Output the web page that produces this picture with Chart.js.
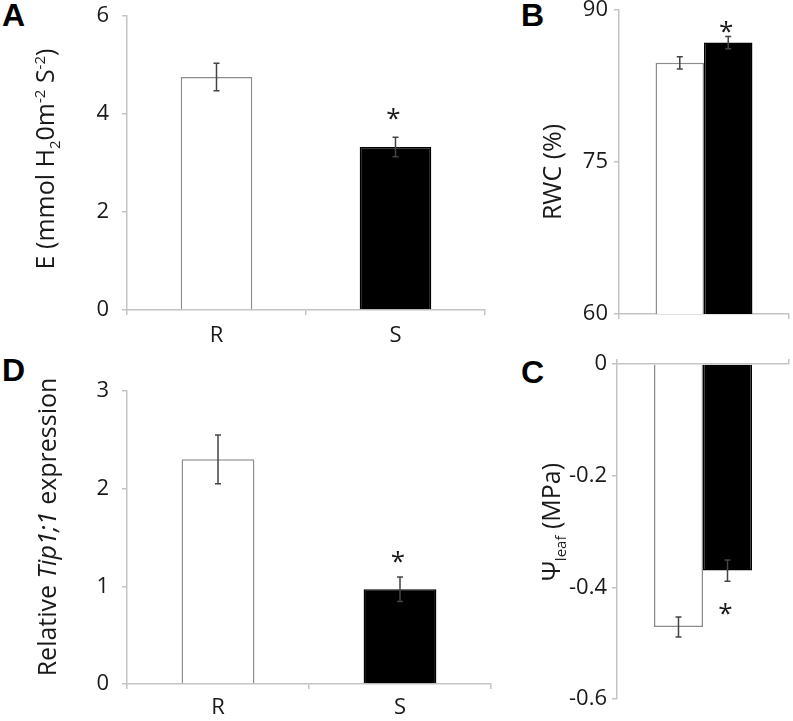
<!DOCTYPE html>
<html>
<head>
<meta charset="utf-8">
<script src="https://cdn.jsdelivr.net/npm/chart.js@4.4.1/dist/chart.umd.min.js"></script>
<style>
  body { margin: 0; background: #fff; }
  #wrap { position: relative; width: 793px; height: 721px; overflow: hidden; font-family: "Open Sans", sans-serif; color: #1a1a1a; }
  canvas { position: absolute; }
  .letter { position: absolute; font: bold 32px Arial, "Liberation Sans", sans-serif; line-height: 1; color: #000; }
  .ytitle { position: absolute; white-space: nowrap; font-size: 25px; line-height: 1; transform: translate(-50%, -50%) rotate(-90deg); }
  .ytitle sub, .ytitle sup { font-size: 15px; }
</style>
</head>
<body>
<div id="wrap">
  <canvas id="chartA" width="440" height="355" style="left:60px;top:-10px"></canvas>
  <canvas id="chartB" width="233" height="354" style="left:560px;top:-9px"></canvas>
  <canvas id="chartD" width="445" height="361" style="left:60px;top:360px"></canvas>
  <canvas id="chartC" width="233" height="376" style="left:560px;top:345px"></canvas>

  <div class="letter" style="left:2px;top:-1px">A</div>
  <div class="letter" style="left:521px;top:-1px">B</div>
  <div class="letter" style="left:2px;top:354px">D</div>
  <div class="letter" style="left:521px;top:356px">C</div>

  <div class="ytitle" style="left:47px;top:159px">E (mmol H<sub>2</sub>0m<sup>-2</sup> S<sup>-2</sup>)</div>
  <div class="ytitle" style="left:551px;top:172px">RWC (%)</div>
  <div class="ytitle" style="left:46px;top:527px">Relative <i>Tip1;1</i> expression</div>
  <div class="ytitle" style="left:553px;top:522px">&Psi;<sub>leaf</sub> (MPa)</div>
</div>
<script>
// ---- data ----
const groups = ["R", "S"];

// A: transpiration
const transpiration = [4.76, 3.33];
const transpirationErr = [0.28, 0.2];
const transpirationStar = [null, 4.04];
const ticksA = [0, 2, 4, 6];

// B: relative water content
const rwc = [84.8, 86.8];
const rwcErr = [0.6, 0.6];
const rwcStar = [null, 88.5];
const ticksB = [60, 75, 90];

// C: leaf water potential
const psiLeaf = [-0.471, -0.37];
const psiLeafErr = [0.018, 0.019];
const psiLeafStar = [null, -0.436];
const ticksC = [-0.6, -0.4, -0.2, 0];

// D: Tip1;1 expression
const tipExpr = [2.3, 0.97];
const tipExprErr = [0.25, 0.125];
const tipExprStar = [null, 1.32];
const ticksD = [0, 1, 2, 3];

const barFill = ["#ffffff", "#000000"];
const barEdge = ["#8c8c8c", "#000000"];
const axisGrey = "#c4c4c4";
const textCol = "#1a1a1a";
const font = { family: "Open Sans", size: 22 };

/* error bars + significance stars, drawn from the bar elements */
const errorBars = {
  id: "errorBars",
  afterDatasetsDraw(chart) {
    const ctx = chart.ctx;
    const y = chart.scales.y;
    chart.data.datasets.forEach((ds, di) => {
      const meta = chart.getDatasetMeta(di);
      meta.data.forEach((bar, i) => {
        const v = ds.data[i], e = ds.errors[i];
        const top = y.getPixelForValue(v + e);
        const bot = y.getPixelForValue(v - e);
        ctx.save();
        ctx.strokeStyle = "#444";
        ctx.lineWidth = 1.5;
        ctx.beginPath();
        ctx.moveTo(bar.x, top); ctx.lineTo(bar.x, bot);
        ctx.moveTo(bar.x - 3, top); ctx.lineTo(bar.x + 3, top);
        ctx.moveTo(bar.x - 3, bot); ctx.lineTo(bar.x + 3, bot);
        ctx.stroke();
        if (ds.stars[i] != null) {
          // glyph centre sits ~0.56em above the baseline
          ctx.fillStyle = textCol;
          ctx.font = "26px 'Open Sans'";
          ctx.textAlign = "center";
          ctx.textBaseline = "alphabetic";
          ctx.fillText("*", bar.x - 2, y.getPixelForValue(ds.stars[i]) + 14.5);
        }
        ctx.restore();
      });
    });
  }
};

function yScale(ticks, width, pad) {
  return {
    min: ticks[0],
    max: ticks[ticks.length - 1],
    afterBuildTicks: (s) => { s.ticks = ticks.map((v) => ({ value: v })); },
    ticks: { padding: pad, color: textCol, font, callback: (v) => String(v) },
    grid: { drawOnChartArea: false, tickLength: 5, color: axisGrey, lineWidth: 1.5 },
    border: { color: axisGrey, width: 1.5 },
    afterFit: (s) => { s.width = width; }
  };
}

function xScale(height, showLabels, pad, position) {
  return {
    position: position || "bottom",
    ticks: { display: showLabels, padding: pad, color: textCol, font },
    grid: { drawOnChartArea: false, tickLength: 5, color: axisGrey, lineWidth: 1.5, offset: true },
    border: { color: axisGrey, width: 1.5 },
    afterFit: (s) => { s.height = height; }
  };
}

const common = {
  responsive: false,
  animation: false,
  devicePixelRatio: 1,
  plugins: { legend: { display: false }, tooltip: { enabled: false } }
};

/* ---- A ---- */
new Chart(document.getElementById("chartA"), {
  type: "bar",
  data: {
    labels: groups,
    datasets: [{
      data: transpiration, errors: transpirationErr, stars: transpirationStar,
      backgroundColor: barFill, borderColor: barEdge, borderWidth: 1.5,
      barPercentage: 0.4, categoryPercentage: 1
    }]
  },
  options: { ...common,
    layout: { padding: { top: 0, right: 15, left: 0, bottom: 0 } },
    scales: { x: xScale(35, true, 8), y: yScale(ticksA, 67, 13) } },
  plugins: [errorBars]
});

/* ---- D ---- */
new Chart(document.getElementById("chartD"), {
  type: "bar",
  data: {
    labels: groups,
    datasets: [{
      data: tipExpr, errors: tipExprErr, stars: tipExprStar,
      backgroundColor: barFill, borderColor: barEdge, borderWidth: 1.5,
      barPercentage: 0.4, categoryPercentage: 1
    }]
  },
  options: { ...common,
    layout: { padding: { top: 31, right: 14, left: 0, bottom: 0 } },
    scales: { x: xScale(37, true, 6), y: yScale(ticksD, 67, 13) } },
  plugins: [errorBars]
});

/* ---- B ---- */
new Chart(document.getElementById("chartB"), {
  type: "bar",
  data: {
    labels: [""],
    datasets: groups.map((g, i) => ({
      label: g, data: [rwc[i]], errors: [rwcErr[i]], stars: [rwcStar[i]],
      backgroundColor: barFill[i], borderColor: barEdge[i], borderWidth: 1.5,
      barPercentage: 1, categoryPercentage: 0.57
    }))
  },
  options: { ...common,
    layout: { padding: { top: 0, right: 4, left: 0, bottom: 0 } },
    scales: { x: xScale(31, false, 2), y: yScale(ticksB, 59, 6) } },
  plugins: [errorBars]
});

/* ---- C ---- */
new Chart(document.getElementById("chartC"), {
  type: "bar",
  data: {
    labels: [""],
    datasets: groups.map((g, i) => ({
      label: g, data: [psiLeaf[i]], errors: [psiLeafErr[i]], stars: [psiLeafStar[i]],
      backgroundColor: barFill[i], borderColor: barEdge[i], borderWidth: 1.5,
      barPercentage: 1, categoryPercentage: 0.57
    }))
  },
  options: { ...common,
    layout: { padding: { top: 0, right: 4, left: 0, bottom: 22 } },
    scales: { x: xScale(19, false, 2, "top"), y: yScale(ticksC, 57, 5) } },
  plugins: [errorBars]
});
</script>
</body>
</html>
